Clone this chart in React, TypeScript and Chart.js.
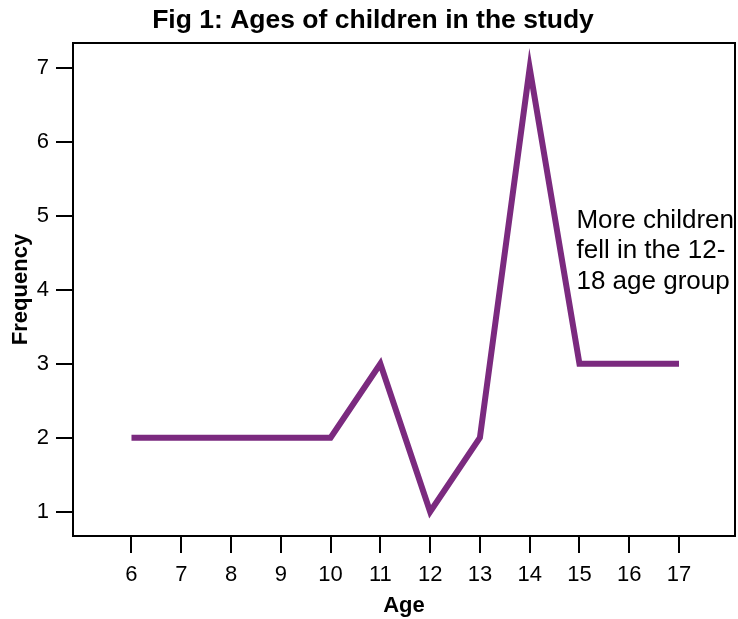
import React, { useEffect, useRef } from "react";
import { Chart, registerables } from "chart.js";

Chart.register(...registerables);

const title = "Fig 1: Ages of children in the study";
const xTitle = "Age";
const yTitle = "Frequency";
const ages = [6, 7, 8, 9, 10, 11, 12, 13, 14, 15, 16, 17];
const frequency = [2, 2, 2, 2, 2, 3, 1, 2, 7, 3, 3, 3];
const yTicks = [1, 2, 3, 4, 5, 6, 7];
const note = ["More children", "fell in the 12-", "18 age group"];

const FONT = '"Liberation Sans", Arial, Helvetica, sans-serif';
const LINE = "#7b2a7f";

export default function App() {
  const ref = useRef<HTMLCanvasElement | null>(null);

  useEffect(() => {
    if (!ref.current) return;
    const boxPlugin = {
      id: "boxAndText",
      afterDraw(chart: any) {
        const { ctx, chartArea } = chart;
        ctx.save();
        ctx.strokeStyle = "#000";
        ctx.lineWidth = 2;
        ctx.strokeRect(chartArea.left, chartArea.top, chartArea.right - chartArea.left, chartArea.bottom - chartArea.top);
        // title
        ctx.fillStyle = "#000";
        ctx.font = `bold 26.5px ${FONT}`;
        ctx.textAlign = "center";
        ctx.textBaseline = "alphabetic";
        ctx.fillText(title, chart.width / 2 + 4, 27.5);
        // annotation
        const xs = chart.scales.x;
        const ys = chart.scales.y;
        ctx.font = `26px ${FONT}`;
        ctx.textAlign = "left";
        const x0 = xs.getPixelForValue(15) - 3;
        const y0 = ys.getPixelForValue(5) + 12;
        note.forEach((t, i) => ctx.fillText(t, x0, y0 + i * 30.5));
        ctx.restore();
      },
    };

    const chart = new Chart(ref.current, {
      type: "line",
      data: {
        datasets: [
          {
            data: ages.map((a, i) => ({ x: a, y: frequency[i] })),
            borderColor: LINE,
            backgroundColor: LINE,
            borderWidth: 6,
            borderJoinStyle: "miter",
            borderCapStyle: "butt",
            pointRadius: 0,
            fill: false,
            tension: 0,
          },
        ],
      },
      options: {
        responsive: false,
        animation: false,
        layout: { padding: { top: 43, right: 3, left: 0, bottom: 0 } },
        plugins: {
          legend: { display: false },
          tooltip: { enabled: false },
          title: { display: false },
        },
        scales: {
          x: {
            type: "linear",
            min: 4.825,
            max: 18.125,
            afterBuildTicks: (s: any) => {
              s.ticks = ages.map((v) => ({ value: v }));
            },
            afterFit: (s: any) => {
              s.height = 83;
            },
            ticks: {
              color: "#000",
              font: { family: FONT, size: 22 },
              padding: 9,
              maxRotation: 0,
              autoSkip: false,
              callback: (v: any) => String(v),
            },
            grid: { drawOnChartArea: false, drawTicks: true, tickLength: 17, color: "#000", lineWidth: 2 },
            border: { display: true, color: "#000", width: 2 },
            title: {
              display: true,
              text: xTitle,
              color: "#000",
              font: { family: FONT, size: 22, weight: "bold" },
              padding: { top: 0, bottom: 0 },
            },
          },
          y: {
            type: "linear",
            min: 0.671,
            max: 7.338,
            afterBuildTicks: (s: any) => {
              s.ticks = yTicks.map((v) => ({ value: v }));
            },
            afterFit: (s: any) => {
              s.width = 73;
            },
            ticks: {
              color: "#000",
              font: { family: FONT, size: 22 },
              padding: 7,
              autoSkip: false,
              callback: (v: any) => String(v),
            },
            grid: { drawOnChartArea: false, drawTicks: true, tickLength: 17, color: "#000", lineWidth: 2 },
            border: { display: true, color: "#000", width: 2 },
            title: {
              display: true,
              text: yTitle,
              color: "#000",
              font: { family: FONT, size: 22, weight: "bold" },
              padding: { top: 8, bottom: 0 },
            },
          },
        },
      },
      plugins: [boxPlugin],
    } as any);
    return () => chart.destroy();
  }, []);

  return (
    <div style={{ position: "absolute", left: 0, top: 0, width: 738, height: 619, background: "#fff" }}>
      <canvas ref={ref} width={738} height={619} style={{ display: "block" }} />
    </div>
  );
}
